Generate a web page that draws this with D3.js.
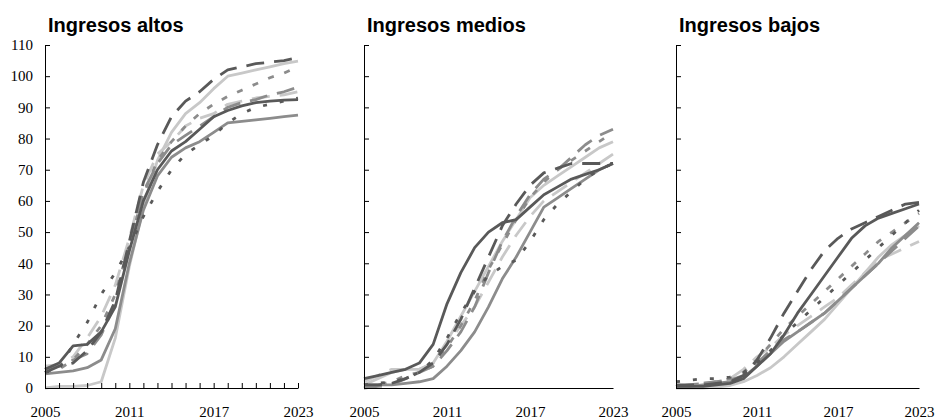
<!DOCTYPE html>
<html lang="es">
<head>
<meta charset="UTF-8" />
<title>Ingresos altos, medios y bajos</title>
<script src="https://d3js.org/d3.v7.min.js"></script>
<style>
    body { margin: 0; padding: 0; background: #fff; }
    .title { font-family: 'Liberation Sans', Arial, sans-serif; font-weight: bold; font-size: 20px; fill: #000; }
    .axis text { font-family: 'Liberation Serif', 'Times New Roman', serif; font-size: 15px; fill: #000; }
    .axis path, .axis line { stroke: #000; stroke-width: 1px; }
    .line { fill: none; stroke-width: 2.8px; stroke-linejoin: round; }
</style>
</head>
<body>
<svg id="chart" width="937" height="419"></svg>
<script>
// years on the x axis and the labelled ones
const years = [2005, 2006, 2007, 2008, 2009, 2010, 2011, 2012, 2013, 2014, 2015, 2016, 2017, 2018, 2019, 2020, 2021, 2022, 2023];
const yearLabels = [2005, 2011, 2017, 2023];
const yTicks = [0, 10, 20, 30, 40, 50, 60, 70, 80, 90, 100, 110];
const panelTitles = ['Ingresos altos', 'Ingresos medios', 'Ingresos bajos'];

// series order: dark long dash, light solid, mid short dash, light long dash,
// mid long dash, dark solid, mid solid, dark dotted
const altos = [
    [5, 7, 8, 12, 18, 28, 47, 66, 78, 87, 92, 95, 99, 102, 103, 104, 104.5, 105, 106],
    [0, 0.5, 0.5, 0.8, 2, 16, 39, 58, 73, 82, 88, 91.5, 96, 100, 101, 102, 103, 104, 104.8],
    [5, 6, 9, 14, 20, 30, 46, 62, 73, 79, 84, 88, 91, 93.5, 95.5, 97.5, 99.5, 101, 103],
    [7, 7.5, 10, 16, 23, 33, 48, 65, 75, 79, 84, 86.5, 88, 91, 92, 93, 93.5, 94, 95],
    [6, 7, 9, 11, 17, 27, 46, 63, 72, 78, 81, 84, 87, 90, 91.5, 92.5, 94, 95, 96.5],
    [6, 8, 13.5, 14, 18, 26, 44, 60, 70, 76, 79, 83, 87, 89, 90.5, 91.5, 92, 92.3, 92.5],
    [4.5, 5, 5.5, 6.5, 9, 19, 40, 57, 68, 74, 77, 79, 82, 85, 85.5, 86, 86.5, 87, 87.5],
    [5, 6, 14, 21, 30, 37, 45, 55, 63, 70, 75, 78, 81, 85, 88, 90, 91, 92, 93]
];
const medios = [
    [1, 1, 1.5, 3, 5, 8, 14, 22, 32, 42, 52, 59, 65, 69, 70.5, 72, 72, 72, 72],
    [1, 3, 5, 6, 6, 8, 15, 23, 31, 39, 47, 54, 61, 65, 68, 71, 74, 77, 79],
    [0, 1, 2, 4, 5, 7, 13, 20, 28, 38, 46, 54, 61, 66, 70, 73, 76, 79, 82],
    [2, 4, 6, 6, 6, 8, 14, 20, 26, 34, 42, 49, 55, 60, 63, 66, 69, 72, 75],
    [0, 0.5, 1, 3, 5, 7, 12, 18, 26, 37, 47, 55, 62, 67, 70, 74, 78, 81, 83],
    [3, 4, 5, 6, 8, 14, 27, 37, 45, 50, 53, 54, 58, 62, 64.5, 67, 68.5, 70, 72],
    [1, 1, 1, 1.5, 2, 3, 7, 12, 18, 26, 35, 42, 50, 58, 61, 64, 67, 70, 72],
    [1, 1.5, 2, 3, 5, 9, 16, 24, 31, 36, 39, 41, 47, 54, 59, 63, 67, 70, 72]
];
const bajos = [
    [1, 1, 1, 1.5, 2, 4, 9, 16, 24, 31, 38, 44, 48, 51, 53, 55, 57, 59, 59.5],
    [0, 0, 0, 0.3, 0.8, 2, 4, 6.5, 10, 14, 18, 22, 27, 32, 37, 42, 46, 49, 52],
    [0.5, 1, 1.5, 2, 3, 5, 9, 14, 19, 23, 27, 31, 35, 39, 43, 47, 50, 53, 56],
    [0.5, 1, 1.5, 2, 3, 6, 10, 13, 17, 20, 23, 26, 29, 33, 37, 41, 43, 45, 47],
    [0.5, 1, 1.5, 2, 2.5, 4, 8, 12, 15.5, 18, 21, 24, 28, 32, 36, 40, 44, 48, 52],
    [0.5, 0.5, 0.5, 1, 1.5, 3, 7, 11, 17, 24, 30, 36, 42, 48, 52, 54.5, 56, 57.5, 59],
    [0.5, 0.5, 1, 1.5, 2, 3.5, 7, 11, 15, 18, 21, 24, 28, 32, 36, 40, 45, 49, 53],
    [2, 2.5, 3, 3, 3.5, 5, 8, 12, 17, 21, 25, 29, 33, 37, 41, 45, 49, 53, 57]
];

const styles = [
    { color: '#595959', dash: '18,10' },
    { color: '#c8c8c8', dash: null },
    { color: '#8c8c8c', dash: '6,11' },
    { color: '#c8c8c8', dash: '18,10' },
    { color: '#8c8c8c', dash: '18,10' },
    { color: '#595959', dash: null },
    { color: '#8c8c8c', dash: null },
    { color: '#595959', dash: '4,13' }
];
const drawOrder = [1, 3, 6, 4, 2, 5, 7, 0];

const svg = d3.select('#chart');
const panels = [
    { data: altos, left: 45, right: 298, labels: true, xTicks: true },
    { data: medios, left: 364, right: 613, labels: false, xTicks: false },
    { data: bajos, left: 676, right: 919, labels: false, xTicks: false }
];
const plotTop = 45, plotBottom = 388;

const y = d3.scaleLinear().domain([0, 110]).range([plotBottom, plotTop]);

panels.forEach((p, pi) => {
    const x = d3.scaleLinear().domain([2005, 2023]).range([p.left, p.right]);
    const g = svg.append('g');

    g.append('text')
        .attr('class', 'title')
        .attr('x', p.left + 3)
        .attr('y', 32)
        .text(panelTitles[pi]);

    const line = d3.line()
        .x((d, i) => x(years[i]))
        .y((d) => y(d));

    drawOrder.forEach((si) => {
        g.append('path')
            .attr('class', 'line')
            .attr('d', line(p.data[si]))
            .attr('stroke', styles[si].color)
            .attr('stroke-dasharray', styles[si].dash);
    });

    g.append('g')
        .attr('class', 'axis')
        .attr('transform', `translate(${p.left},0)`)
        .call(d3.axisLeft(y)
            .tickValues(yTicks)
            .tickSizeInner(-5)
            .tickSizeOuter(0)
            .tickPadding(12)
            .tickFormat(p.labels ? d3.format('d') : () => ''));

    g.append('g')
        .attr('class', 'axis')
        .attr('transform', `translate(0,${plotBottom})`)
        .call(d3.axisBottom(x)
            .tickValues(years)
            .tickSizeInner(p.xTicks ? -5 : 0)
            .tickSizeOuter(0)
            .tickPadding(18)
            .tickFormat((d) => (yearLabels.includes(d) ? d : '')));
});
</script>
</body>
</html>
